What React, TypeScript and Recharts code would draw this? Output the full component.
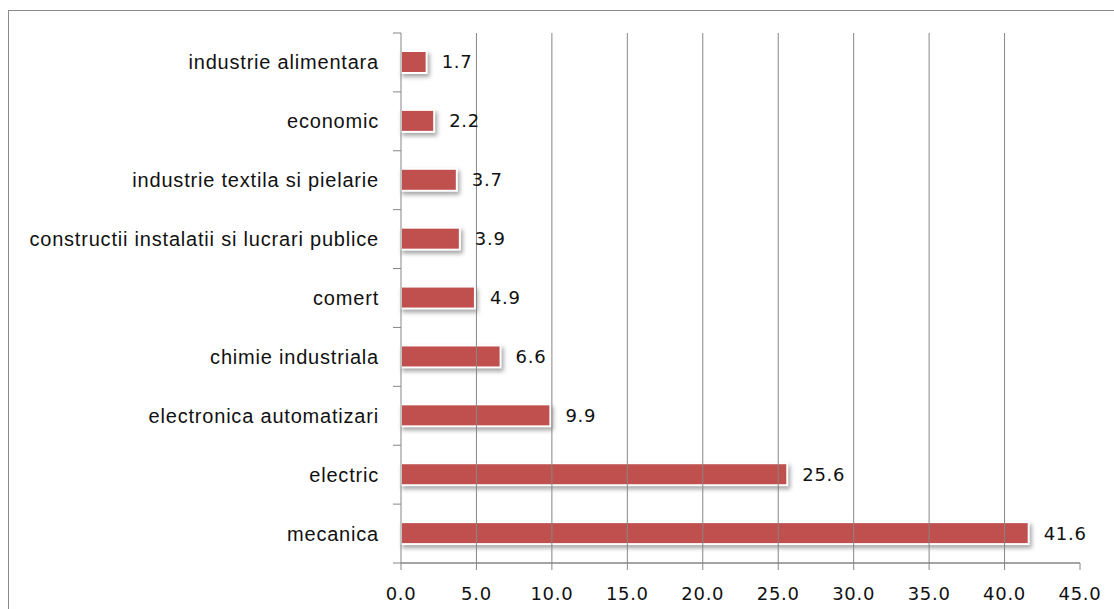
import React from 'react';
import { BarChart, Bar, XAxis, YAxis, ReferenceLine, LabelList } from 'recharts';

const categories = [
  'industrie alimentara',
  'economic',
  'industrie textila si pielarie',
  'constructii instalatii si lucrari publice',
  'comert',
  'chimie industriala',
  'electronica automatizari',
  'electric',
  'mecanica',
];
const values = [1.7, 2.2, 3.7, 3.9, 4.9, 6.6, 9.9, 25.6, 41.6];
const xTicks = [0, 5, 10, 15, 20, 25, 30, 35, 40, 45];
const gridValues = [5, 10, 15, 20, 25, 30, 35, 40];

const data = categories.map((name, i) => ({ name, value: values[i] }));

const W = 1114;
const H = 609;
const M_TOP = 33;
const M_BOTTOM = 6;
const X_AXIS_H = 40;
const PLOT_H = H - M_TOP - M_BOTTOM - X_AXIS_H;
const BAND = PLOT_H / categories.length;
const GRAY = '#868686';
const TICK = 8;
const TICK_MARGIN = 14;

const YTick = (props: any) => {
  const { x, y, payload, index } = props;
  const axisX = x + TICK + TICK_MARGIN;
  const last = index === categories.length - 1;
  return (
    <g>
      <line x1={axisX - TICK} x2={axisX} y1={y - BAND / 2} y2={y - BAND / 2} stroke={GRAY} strokeWidth={1} />
      {last && (
        <line x1={axisX - TICK} x2={axisX} y1={y + BAND / 2} y2={y + BAND / 2} stroke={GRAY} strokeWidth={1} />
      )}
      <text
        x={x}
        y={y}
        dy="0.35em"
        textAnchor="end"
        fill="#111"
        style={{ fontFamily: '"Liberation Sans", Arial, sans-serif', fontSize: 20, letterSpacing: 0.8 }}
      >
        {payload.value}
      </text>
    </g>
  );
};

const BarShape = (props: any) => {
  const { x, y, width, height } = props;
  return (
    <rect
      x={x}
      y={y}
      width={Math.max(width, 0)}
      height={height}
      fill="#C0504D"
      stroke="#ffffff"
      strokeWidth={2}
      style={{ filter: 'drop-shadow(2px 3px 2px rgba(0,0,0,0.35))' }}
    />
  );
};

const numFont = { fill: '#111', fontFamily: '"DejaVu Sans", Verdana, sans-serif', fontSize: 18, letterSpacing: 0.7 };

export default function App() {
  return (
    <div
      style={{
        position: 'absolute',
        left: 0,
        top: 0,
        width: W,
        height: H,
        overflow: 'hidden',
        background: '#fff',
      }}
    >
      <div
        style={{
          position: 'absolute',
          left: 8,
          top: 10,
          width: 1130,
          height: 640,
          border: '1.5px solid #8a8a8a',
          boxSizing: 'border-box',
        }}
      />
      <div style={{ position: 'absolute', left: 0, top: 0 }}>
        <BarChart
          width={W}
          height={H}
          data={data}
          layout="vertical"
          margin={{ top: M_TOP, right: 34, bottom: M_BOTTOM, left: 8 }}
        >
          <XAxis
            type="number"
            domain={[0, 45]}
            ticks={xTicks}
            interval={0}
            height={X_AXIS_H}
            tickFormatter={(v: number) => v.toFixed(1)}
            stroke={GRAY}
            tickSize={7}
            tickMargin={17}
            tick={numFont}
            axisLine={{ stroke: GRAY, strokeWidth: 1.5 }}
            tickLine={{ stroke: GRAY, strokeWidth: 1 }}
          />
          <YAxis
            type="category"
            dataKey="name"
            width={393}
            interval={0}
            tickSize={TICK}
            tickMargin={TICK_MARGIN}
            tickLine={false}
            axisLine={{ stroke: GRAY, strokeWidth: 1 }}
            tick={<YTick />}
          />
          {gridValues.map((v) => (
            <ReferenceLine key={v} x={v} stroke={GRAY} strokeWidth={1} ifOverflow="extendDomain" />
          ))}
          <Bar dataKey="value" barSize={22} shape={<BarShape />} isAnimationActive={false}>
            <LabelList
              dataKey="value"
              position="right"
              offset={15}
              formatter={(v: any) => Number(v).toFixed(1)}
              style={numFont}
            />
          </Bar>
        </BarChart>
      </div>
    </div>
  );
}
